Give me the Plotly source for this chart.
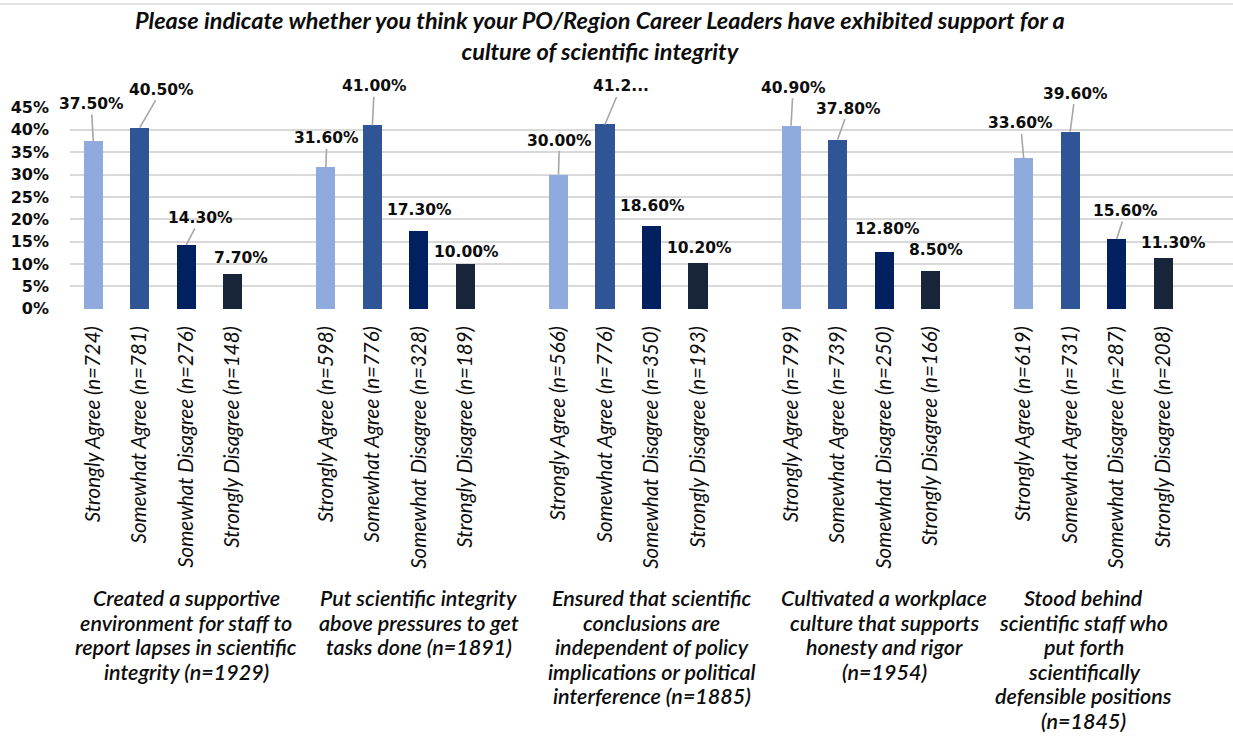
import plotly.graph_objects as go

# Survey statements (one cluster of bars each), wrapped for the category band
statements = [
    "Created a supportive<br>environment for staff to<br>report lapses in scientific<br>integrity (n=1929)",
    "Put scientific integrity<br>above pressures to get<br>tasks done (n=1891)",
    "Ensured that scientific<br>conclusions are<br>independent of policy<br>implications or political<br>interference (n=1885)",
    "Cultivated a workplace<br>culture that supports<br>honesty and rigor<br>(n=1954)",
    "Stood behind<br>scientific staff who<br>put forth<br>scientifically<br>defensible positions<br>(n=1845)",
]

responses = ["Strongly Agree", "Somewhat Agree", "Somewhat Disagree", "Strongly Disagree"]

# Respondent counts per statement, in response order
counts_created = [724, 781, 276, 148]
counts_put = [598, 776, 328, 189]
counts_ensured = [566, 776, 350, 193]
counts_cultivated = [799, 739, 250, 166]
counts_stood = [619, 731, 287, 208]

# Percentage of respondents per response, one value per statement
strongly_agree = [37.5, 31.6, 30.0, 40.9, 33.6]
somewhat_agree = [40.5, 41.0, 41.2, 37.8, 39.6]
somewhat_disagree = [14.3, 17.3, 18.6, 12.8, 15.6]
strongly_disagree = [7.7, 10.0, 10.2, 8.5, 11.3]

y_ticks = [0, 5, 10, 15, 20, 25, 30, 35, 40, 45]
y_tick_labels = ["0%", "5%", "10%", "15%", "20%", "25%", "30%", "35%", "40%", "45%"]

counts = [counts_created, counts_put, counts_ensured, counts_cultivated, counts_stood]
series = [strongly_agree, somewhat_agree, somewhat_disagree, strongly_disagree]
colors = ["#8FAADC", "#2F5597", "#002060", "#17243A"]

SLOTS_PER_GROUP = 5  # four bars plus a spacer slot

W, H = 1233, 736
PLOT_L, PLOT_T, PLOT_B = 70, 107, 309
PLOT_H = PLOT_B - PLOT_T


def paper_y(py):
    """Pixel row -> paper y coordinate."""
    return (PLOT_B - py) / PLOT_H


# Label placement (pixel offset from bar top) and whether a leader line is drawn,
# indexed [statement][response]
label_offsets = [
    [(-2, -37), (22, -38), (14, -27), (8, -16)],
    [(1, -29), (2, -39), (1, -21), (1, -12)],
    [(1, -34), (16, -38), (1, -20), (1, -15)],
    [(2, -38), (11, -31), (3, -23), (5, -21)],
    [(-3, -35), (5, -38), (9, -28), (10, -15)],
]
leaders = [
    [True, True, True, False],
    [True, True, False, False],
    [True, True, False, False],
    [True, True, False, False],
    [True, True, True, False],
]
truncated = {(2, 1)}  # label cut short by the chart's label box

fig = go.Figure()

tick_vals, tick_text = [], []
for r, resp in enumerate(responses):
    xs = [SLOTS_PER_GROUP * g + r for g in range(len(statements))]
    fig.add_trace(go.Bar(
        x=xs, y=series[r], width=0.41, name=resp,
        marker=dict(color=colors[r], line=dict(width=0)),
        showlegend=False,
    ))

for g in range(len(statements)):
    for r, resp in enumerate(responses):
        tick_vals.append(SLOTS_PER_GROUP * g + r)
        tick_text.append(f"{resp} (n={counts[g][r]})")

# Value labels with leader lines
for g in range(len(statements)):
    for r in range(len(responses)):
        v = series[r][g]
        txt = f"{v:.2f}%"
        if (g, r) in truncated:
            txt = txt[:4] + "..."
        dx, dy = label_offsets[g][r]
        fig.add_annotation(
            x=SLOTS_PER_GROUP * g + r, y=v, xref="x", yref="y",
            text=txt, showarrow=True, ax=dx, ay=dy,
            arrowhead=0, arrowwidth=1.6, standoff=0, startstandoff=0,
            arrowcolor="#A6A6A6" if leaders[g][r] else "rgba(0,0,0,0)",
            font=dict(family="DejaVu Sans", size=15.5, color="#0D0D0D", weight="bold"),
        )

# Statement labels beneath each cluster, one line at a time for tight leading
group_shift = [0, 0, 0, 0, -33]
FIRST_LINE_Y, LINE_STEP = 598, 24.6
for g, s in enumerate(statements):
    for i, line in enumerate(s.split("<br>")):
        fig.add_annotation(
            x=SLOTS_PER_GROUP * g + 2, y=paper_y(FIRST_LINE_Y + i * LINE_STEP),
            xref="x", yref="paper",
            text=line, showarrow=False, xanchor="center", yanchor="middle",
            xshift=group_shift[g],
            font=dict(family="Lato", size=21.5, color="#0D0D0D", style="italic", weight=600),
        )

# Chart title
fig.add_annotation(
    x=(600 - PLOT_L) / (W - PLOT_L), y=paper_y(36), xref="paper", yref="paper",
    text="Please indicate whether you think your PO/Region Career Leaders have exhibited support for a<br>culture of scientific integrity",
    showarrow=False, xanchor="center", yanchor="middle", align="center",
    font=dict(family="Lato", size=23.5, color="#0D0D0D", style="italic", weight="bold"),
)

fig.update_layout(
    width=W, height=H,
    margin=dict(l=PLOT_L, r=0, t=PLOT_T, b=H - PLOT_B, pad=0),
    paper_bgcolor="white", plot_bgcolor="white",
    barmode="overlay",
    bargap=0,
    shapes=[dict(type="line", xref="paper", yref="paper",
                 x0=-PLOT_L / (W - PLOT_L), x1=1,
                 y0=paper_y(4), y1=paper_y(4),
                 line=dict(color="#D9D9D9", width=1.5))],
    xaxis=dict(
        range=[-0.5, 24.5], tickmode="array", tickvals=tick_vals, ticktext=tick_text,
        tickangle=-90, showgrid=False, zeroline=False, showline=False,
        ticks="", ticklabelstandoff=12,
        tickfont=dict(family="Lato", size=20.5, color="#0D0D0D", style="italic"),
    ),
    yaxis=dict(
        range=[-0.05, 45.1], tickmode="array", tickvals=y_ticks, ticktext=y_tick_labels,
        showgrid=True, gridcolor="#D9D9D9", gridwidth=2,
        zeroline=False, showline=False, ticks="", ticklabelstandoff=20,
        tickfont=dict(family="DejaVu Sans", size=16, color="#0D0D0D", weight="bold"),
    ),
)

fig.write_html("out.html")
